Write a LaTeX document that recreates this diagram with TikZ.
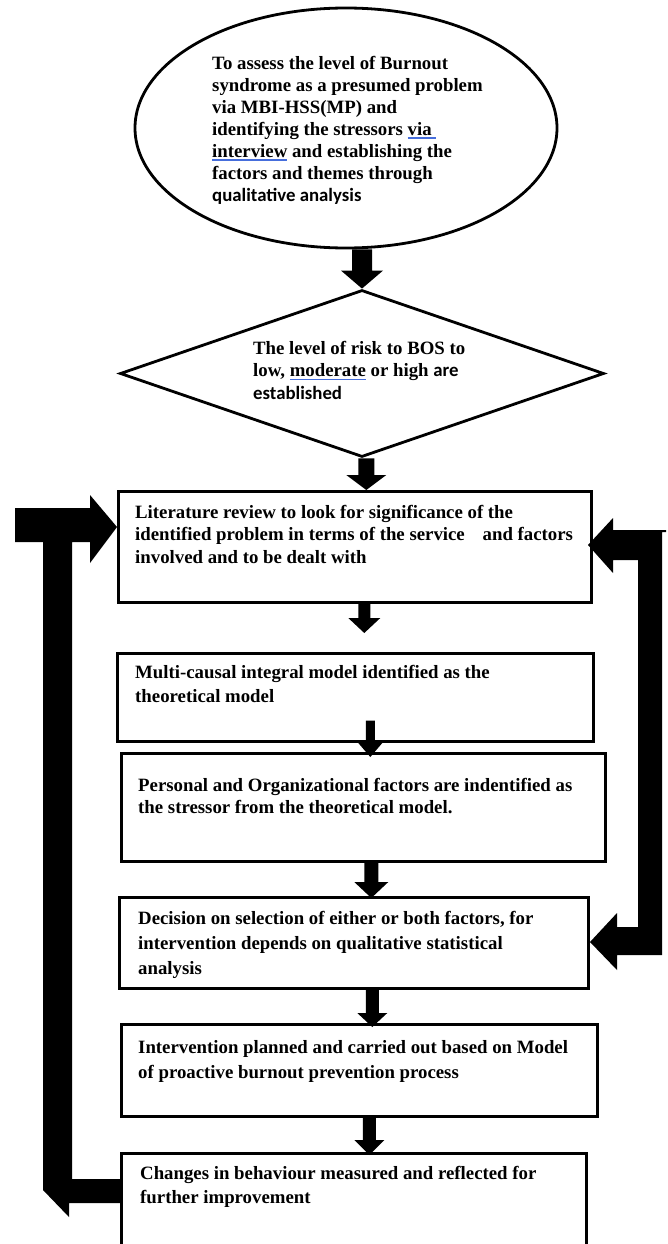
\documentclass[tikz,border=0pt]{standalone}
\usepackage{fontspec}
\setmainfont{Liberation Serif}
\newfontfamily\calib{Carlito}
\usetikzlibrary{shapes.geometric,calc}
\definecolor{uline}{RGB}{70,110,220}
% blue proofing underline
\newcommand{\gul}[1]{\setbox0=\hbox{#1}\rlap{\textcolor{uline}{\rule[-3.5pt]{\wd0}{1.4pt}}}\box0\relax}
% fixed first-line height so text tops line up
\newcommand{\fl}{\rule{0pt}{14pt}}
% block arrow: #1 start, #2 tip, #3 shaft width, #4 head width, #5 head length
\newcommand{\blkarrow}[5]{%
  \fill let \p1=#1, \p2=#2 in
    ({\x2-#3/2},{\y1}) -- ({\x2+#3/2},{\y1}) -- ({\x2+#3/2},{\y2+#5}) --
    ({\x2+#4/2},{\y2+#5}) -- (\x2,\y2) -- ({\x2-#4/2},{\y2+#5}) --
    ({\x2-#3/2},{\y2+#5}) -- cycle;}
\begin{document}
\begin{tikzpicture}[x=1pt,y=-1pt,
  box/.style={draw, line width=2.6pt, rectangle, inner sep=0, anchor=north west},
  txt/.style={anchor=north west, inner sep=0, align=left,
    font=\bfseries\fontsize{18.8}{#1}\selectfont},
  shp/.style={draw, line width=2.8pt, inner sep=0}]
\useasboundingbox (0,0) rectangle (668,1244);

% start and decision shapes
\node[shp, ellipse, minimum width=422, minimum height=240] (e) at (346,128) {};
\node[shp, diamond, minimum width=484, minimum height=167] (d) at (362,373.5) {};

% process boxes
\node[box, minimum width=473, minimum height=111] (b1) at (117,490) {};
\node[box, minimum width=476, minimum height=88]  (b2) at (116,652) {};
\node[box, minimum width=484, minimum height=108] (b3) at (120,752) {};
\node[box, minimum width=469, minimum height=91]  (b4) at (118,896) {};
\node[box, minimum width=476, minimum height=92]  (b5) at (120,1023) {};
\node[box, minimum width=465, minimum height=92]  (b6) at (120,1152) {};

% texts
\node[txt=22] (te) at (212,55) {\fl To assess the level of Burnout\\
  syndrome as a presumed problem\\ via MBI-HSS(MP) and\\
  identifying the stressors \gul{via }\\ \gul{interview} and establishing the\\
  factors and themes through\\ {\calib qualitative analysis}};
\node[txt=22.5] (td) at (253,340) {\fl The level of risk to BOS to\\
  low, \gul{moderate} or high {\calib are}\\ {\calib established}};
\node[txt=22.5] (t1) at (135,504) {\fl Literature review to look for significance of the\\
  identified problem in terms of the service\hspace{0.7em} and factors\\
  involved and to be dealt with};
\node[txt=24] (t2) at (135,664) {\fl Multi-causal integral model identified as the\\ theoretical model};
\node[txt=22] (t3) at (138,777) {\fl Personal and Organizational factors are indentified as\\
  the stressor from the theoretical model.};
\node[txt=25] (t4) at (138,910) {\fl Decision on selection of either or both factors, for\\
  intervention depends on qualitative statistical\\ analysis};
\node[txt=25] (t5) at (138,1039) {\fl Intervention planned and carried out based on Model\\
  of proactive burnout prevention process};
\node[txt=24] (t6) at (140,1165) {\fl Changes in behaviour measured and reflected for\\ further improvement};

% downward flow arrows
\blkarrow{(e.south)}{(d.north)}{20pt}{42pt}{18pt}
\blkarrow{(d.south)}{([xshift=11.5pt]b1.north)}{16pt}{40pt}{15pt}
\blkarrow{(b1.south)}{([xshift=9pt,yshift=19pt]b2.north)}{12pt}{32pt}{15pt}
\blkarrow{([yshift=22pt]b2.south)}{([xshift=7pt,yshift=-5pt]b3.north)}{9pt}{24pt}{14pt}
\blkarrow{(b3.south)}{([xshift=17.5pt,yshift=-2pt]b4.north)}{14pt}{34pt}{16pt}
\blkarrow{(b4.south)}{([xshift=13pt,yshift=-4pt]b5.north)}{13pt}{30pt}{14pt}
\blkarrow{(b5.south)}{([xshift=15.5pt,yshift=-3pt]b6.north)}{13pt}{30pt}{15pt}

% feedback loop on the left: from the last box back to the literature review
\fill (15,508) -- (90,508) -- (90,495) -- (117,527) -- (90,563) -- (90,542)
  -- (72,542) -- (72,1179) -- (120,1179) -- (120,1203) -- (69,1203)
  -- (69,1217) -- (43,1190) -- (43,542) -- (15,542) -- cycle;

% feedback loop on the right: between the literature review and the decision box
\fill (588,545) -- (613,518) -- (613,530) -- (666,530) -- (666,532) -- (662,532)
  -- (662,955) -- (617,955) -- (617,970) -- (590,942) -- (617,913) -- (617,927)
  -- (638,927) -- (638,560) -- (613,560) -- (613,573) -- cycle;
\end{tikzpicture}
\end{document}
